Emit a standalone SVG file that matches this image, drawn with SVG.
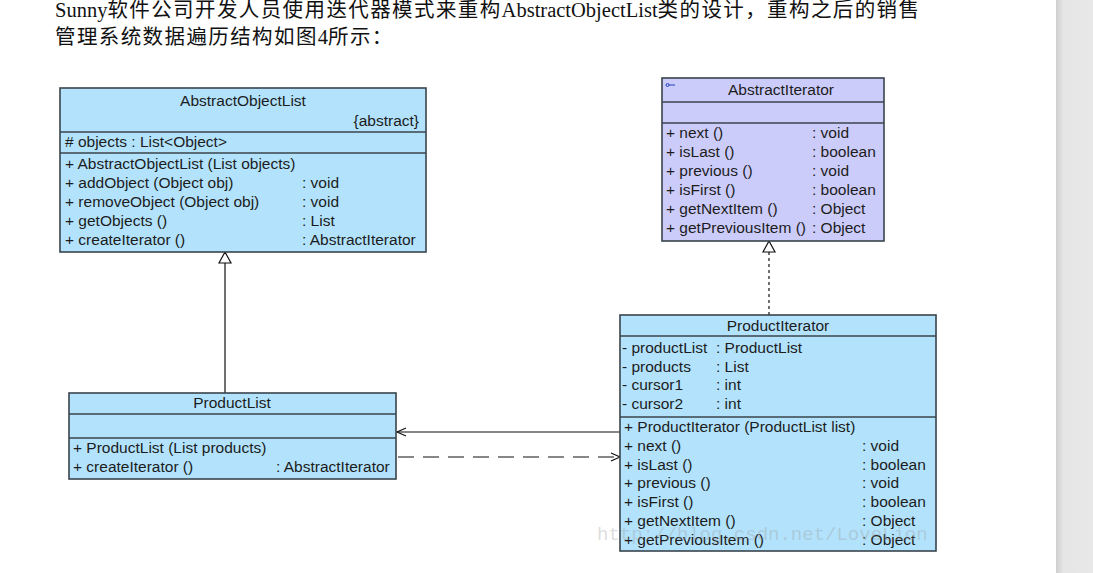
<svg xmlns="http://www.w3.org/2000/svg" width="1093" height="573" viewBox="0 0 1093 573">
<defs>
<linearGradient id="bar" x1="0" y1="0" x2="1" y2="0">
<stop offset="0" stop-color="#cfcfcf"/>
<stop offset="0.2" stop-color="#e6e6e6"/>
<stop offset="1" stop-color="#e8e8e8"/>
</linearGradient>
<style>
.box{fill:#b3e3fc;stroke:#3a444d;stroke-width:1.6}
.ibox{fill:#ccccfb;stroke:#3a444d;stroke-width:1.6}
.sep{stroke:#3a444d;stroke-width:1.6}
.t{font-family:"Liberation Sans",Arial,sans-serif;font-size:15.5px;fill:#1c1c1c}
.c{text-anchor:middle}
.e{text-anchor:end}
.ln{stroke:#111;stroke-width:1.2;fill:none}
.tri{fill:#fff;stroke:#111;stroke-width:1.2}
.head{font-family:"Liberation Serif","Noto Sans CJK SC",serif;font-size:20.5px;fill:#111}
.cj{letter-spacing:1.4px}
.wm{font-family:"Liberation Mono",monospace;font-size:19px;fill:#9a9a9a;fill-opacity:0.35}
</style>
</defs>
<rect x="0" y="0" width="1093" height="573" fill="#fff"/>
<rect x="1056" y="0" width="37" height="573" fill="url(#bar)"/>

<text class="head" x="55" y="17">Sunny<tspan class="cj">软件公司开发人员使用迭代器模式来重构</tspan>AbstractObjectList<tspan class="cj">类的设计，重构之后的销售</tspan></text>
<text class="head" x="55" y="44"><tspan class="cj">管理系统数据遍历结构如图</tspan>4<tspan class="cj">所示：</tspan></text>

<g id="connectors">
<line class="ln" x1="225" y1="393" x2="225" y2="263"/>
<polygon class="tri" points="225,252 219,263 231,263"/>
<line class="ln" x1="769" y1="315" x2="769" y2="252" stroke-dasharray="3 3"/>
<polygon class="tri" points="769,241 763,252 775,252"/>
<line class="ln" x1="620" y1="432" x2="397" y2="432"/>
<polyline class="ln" points="406,428 397,432 406,436"/>
<line class="ln" x1="398" y1="457" x2="619" y2="457" stroke-dasharray="16 9"/>
<polyline class="ln" points="611,453 620,457 611,461"/>
</g>

<g id="AbstractObjectList">
<rect class="box" x="60" y="88" width="366" height="164"/>
<line class="sep" x1="60" y1="132" x2="426" y2="132"/>
<line class="sep" x1="60" y1="153" x2="426" y2="153"/>
<text class="t c" x="243" y="106">AbstractObjectList</text>
<text class="t e" x="419" y="126">{abstract}</text>
<text class="t" x="65" y="147"># objects : List&lt;Object&gt;</text>
<text class="t" x="65" y="169">+ AbstractObjectList (List objects)</text>
<text class="t" x="65" y="188">+ addObject (Object obj)</text>
<text class="t" x="65" y="207">+ removeObject (Object obj)</text>
<text class="t" x="65" y="226">+ getObjects ()</text>
<text class="t" x="65" y="245">+ createIterator ()</text>
<text class="t" x="302" y="188">: void</text>
<text class="t" x="302" y="207">: void</text>
<text class="t" x="302" y="226">: List</text>
<text class="t" x="302" y="245">: AbstractIterator</text>
</g>

<g id="AbstractIterator">
<rect class="ibox" x="662" y="78" width="222" height="163"/>
<line class="sep" x1="662" y1="102" x2="884" y2="102"/>
<line class="sep" x1="662" y1="123" x2="884" y2="123"/>
<circle cx="667.5" cy="85" r="1.5" fill="none" stroke="#2040c0" stroke-width="1"/>
<line x1="669" y1="85" x2="675" y2="85" stroke="#2040c0" stroke-width="1"/>
<text class="t c" x="781" y="95">AbstractIterator</text>
<text class="t" x="666" y="138">+ next ()</text>
<text class="t" x="666" y="157">+ isLast ()</text>
<text class="t" x="666" y="176">+ previous ()</text>
<text class="t" x="666" y="195">+ isFirst ()</text>
<text class="t" x="666" y="214">+ getNextItem ()</text>
<text class="t" x="666" y="233">+ getPreviousItem ()</text>
<text class="t" x="812" y="138">: void</text>
<text class="t" x="812" y="157">: boolean</text>
<text class="t" x="812" y="176">: void</text>
<text class="t" x="812" y="195">: boolean</text>
<text class="t" x="812" y="214">: Object</text>
<text class="t" x="812" y="233">: Object</text>
</g>

<g id="ProductIterator">
<rect class="box" x="620" y="315" width="316" height="236"/>
<line class="sep" x1="620" y1="336" x2="936" y2="336"/>
<line class="sep" x1="620" y1="417" x2="936" y2="417"/>
<text class="t c" x="778" y="331">ProductIterator</text>
<text class="t" x="622" y="353">- productList</text>
<text class="t" x="622" y="372">- products</text>
<text class="t" x="622" y="390">- cursor1</text>
<text class="t" x="622" y="409">- cursor2</text>
<text class="t" x="716" y="353">: ProductList</text>
<text class="t" x="716" y="372">: List</text>
<text class="t" x="716" y="390">: int</text>
<text class="t" x="716" y="409">: int</text>
<text class="t" x="624" y="432">+ ProductIterator (ProductList list)</text>
<text class="t" x="624" y="451">+ next ()</text>
<text class="t" x="624" y="470">+ isLast ()</text>
<text class="t" x="624" y="488">+ previous ()</text>
<text class="t" x="624" y="507">+ isFirst ()</text>
<text class="t" x="624" y="526">+ getNextItem ()</text>
<text class="t" x="624" y="545">+ getPreviousItem ()</text>
<text class="t" x="862" y="451">: void</text>
<text class="t" x="862" y="470">: boolean</text>
<text class="t" x="862" y="488">: void</text>
<text class="t" x="862" y="507">: boolean</text>
<text class="t" x="862" y="526">: Object</text>
<text class="t" x="862" y="545">: Object</text>
</g>

<g id="ProductList">
<rect class="box" x="69" y="393" width="327" height="86"/>
<line class="sep" x1="69" y1="414" x2="396" y2="414"/>
<line class="sep" x1="69" y1="438" x2="396" y2="438"/>
<text class="t c" x="232" y="408">ProductList</text>
<text class="t" x="73" y="453">+ ProductList (List products)</text>
<text class="t" x="73" y="472">+ createIterator ()</text>
<text class="t" x="276" y="472">: AbstractIterator</text>
</g>

<text class="wm" x="597" y="540">http://blog.csdn.net/LoveLion</text>
</svg>
